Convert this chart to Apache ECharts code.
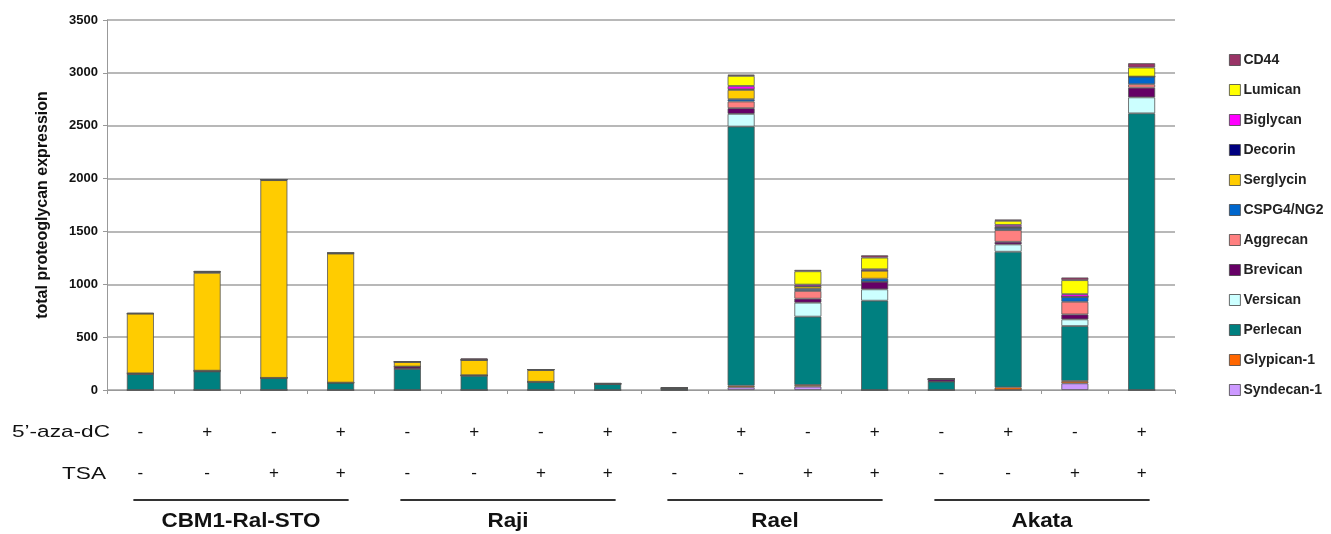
<!DOCTYPE html>
<html>
<head>
<meta charset="utf-8">
<script src="https://cdn.jsdelivr.net/npm/echarts@6/dist/echarts.min.js"></script>
<style>
  html, body { margin: 0; padding: 0; background: #fff; }
  #chart { width: 1331px; height: 534px; }
</style>
</head>
<body>
<div id="chart"></div>
<script>
// Treatment conditions per bar (16 bars, 4 cell lines x 4 conditions)
const aza = ['-', '+', '-', '+', '-', '+', '-', '+', '-', '+', '-', '+', '-', '+', '-', '+'];
const tsa = ['-', '-', '+', '+', '-', '-', '+', '+', '-', '-', '+', '+', '-', '-', '+', '+'];
const categories = aza.map((a, i) => i + 1 + '');
const cellLines = ['CBM1-Ral-STO', 'Raji', 'Rael', 'Akata'];

// Proteoglycan expression, stacked bottom to top
const syndecan1 = [0, 0, 0, 0, 0, 0, 0, 0, 0, 25, 32, 0, 0, 0, 63, 0];
const glypican1 = [0, 0, 0, 0, 0, 0, 0, 0, 0, 16, 16, 0, 0, 25, 22, 0];
const perlecan  = [150, 175, 115, 70, 200, 135, 78, 57, 12, 2451, 646, 845, 80, 1283, 520, 2617];
const versican  = [0, 0, 0, 0, 0, 0, 0, 0, 0, 120, 132, 107, 0, 69, 63, 151];
const brevican  = [8, 8, 0, 0, 22, 5, 0, 0, 0, 54, 38, 73, 22, 25, 47, 92];
const aggrecan  = [0, 0, 0, 0, 0, 0, 0, 0, 0, 63, 73, 0, 0, 110, 120, 32];
const cspg4     = [0, 0, 0, 0, 0, 0, 0, 0, 0, 22, 19, 28, 0, 22, 47, 73];
const serglycin = [565, 925, 1870, 1220, 45, 145, 110, 0, 8, 88, 22, 76, 0, 0, 0, 0];
const decorin   = [0, 10, 5, 5, 0, 0, 5, 5, 0, 5, 3, 0, 0, 9, 0, 0];
const biglycan  = [0, 0, 0, 0, 0, 0, 0, 0, 0, 32, 16, 13, 0, 19, 25, 0];
const lumican   = [0, 0, 0, 0, 0, 0, 0, 0, 0, 95, 126, 110, 0, 38, 132, 85];
const cd44      = [7, 8, 0, 0, 0, 15, 0, 0, 0, 13, 13, 22, 0, 13, 25, 41];

const seriesDefs = [
  ['Syndecan-1', syndecan1, '#CC99FF'],
  ['Glypican-1', glypican1, '#FF6600'],
  ['Perlecan', perlecan, '#008080'],
  ['Versican', versican, '#CCFFFF'],
  ['Brevican', brevican, '#660066'],
  ['Aggrecan', aggrecan, '#FF8080'],
  ['CSPG4/NG2', cspg4, '#0066CC'],
  ['Serglycin', serglycin, '#FFCC00'],
  ['Decorin', decorin, '#000080'],
  ['Biglycan', biglycan, '#FF00FF'],
  ['Lumican', lumican, '#FFFF00'],
  ['CD44', cd44, '#993366']
];

const FONT = '"Liberation Sans", Arial, sans-serif';
const chart = echarts.init(document.getElementById('chart'));

chart.setOption({
  animation: false,
  grid: { left: 107, right: 156, top: 20, bottom: 144, containLabel: false },
  legend: {
    orient: 'vertical',
    left: 1224,
    top: 48,
    itemWidth: 11,
    itemHeight: 11,
    itemGap: 16,
    icon: 'rect',
    data: seriesDefs.map(d => d[0]).reverse(),
    textStyle: { fontFamily: FONT, fontWeight: 'bold', fontSize: 14, color: '#222', padding: [0, 0, 0, -2] },
    itemStyle: { borderColor: '#444', borderWidth: 0.8 }
  },
  xAxis: {
    type: 'category',
    data: categories,
    axisLine: { lineStyle: { color: '#999', width: 1 } },
    axisTick: { show: true, length: 4, lineStyle: { color: '#999' } },
    axisLabel: {
      margin: 22,
      lineHeight: 41,
      fontFamily: FONT,
      fontSize: 17,
      color: '#111',
      formatter: (v, i) => aza[i] + '\n' + tsa[i]
    }
  },
  yAxis: {
    type: 'value',
    min: 0,
    max: 3500,
    interval: 500,
    name: 'total proteoglycan expression',
    nameLocation: 'middle',
    nameGap: 56,
    nameTextStyle: { fontFamily: FONT, fontWeight: 'bold', fontSize: 16, color: '#111' },
    axisLine: { show: true, lineStyle: { color: '#999', width: 1 } },
    axisTick: { show: true, length: 4, lineStyle: { color: '#999' } },
    axisLabel: {
      fontFamily: FONT, fontWeight: 'bold', fontSize: 13, color: '#111', margin: 9,
      formatter: v => String(v)
    },
    splitLine: { lineStyle: { color: '#a0a0a0', width: 1.5 } }
  },
  series: seriesDefs.map(([name, data, color]) => ({
    name,
    type: 'bar',
    stack: 'total',
    barWidth: 27,
    data,
    itemStyle: { color, borderColor: '#555', borderWidth: 0.8 },
    emphasis: { disabled: true }
  }))
});

// Row captions, cell-line brackets and names, placed from the category axis
function drawAnnotations() {
  const px = i => chart.convertToPixel({ xAxisIndex: 0 }, i);
  const caption = (text, right, y) => ({
    type: 'text', x: right, y, scaleX: 1.33, // captions use a horizontally widened face
    style: {
      text, font: '17px ' + FONT, fill: '#111',
      textAlign: 'right', textVerticalAlign: 'middle'
    }
  });
  const elements = [
    caption('5’-aza-dC', 110, 432),
    caption('TSA', 106, 474)
  ];
  cellLines.forEach((name, g) => {
    const x0 = px(g * 4) - 7;
    const x1 = px(g * 4 + 3) + 8;
    elements.push({
      type: 'line',
      shape: { x1: x0, y1: 500, x2: x1, y2: 500 },
      style: { stroke: '#333', lineWidth: 2 }
    });
    elements.push({
      type: 'text',
      x: (x0 + x1) / 2,
      y: 522,
      scaleX: 1.15,
      style: {
        text: name, font: 'bold 19.5px ' + FONT, fill: '#111',
        textAlign: 'center', textVerticalAlign: 'middle'
      }
    });
  });
  chart.setOption({ graphic: elements });
}
drawAnnotations();
</script>
</body>
</html>
